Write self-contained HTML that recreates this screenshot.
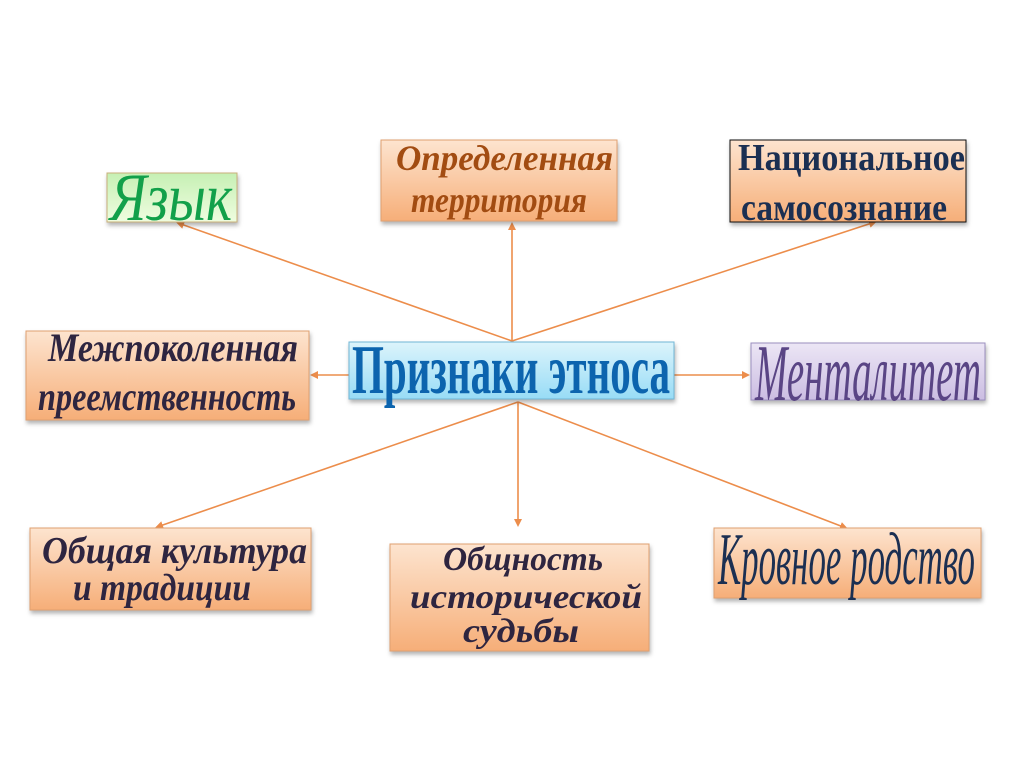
<!DOCTYPE html>
<html><head><meta charset="utf-8"><style>body{margin:0;background:#fff}svg{display:block}</style></head>
<body>
<svg width="1024" height="767" viewBox="0 0 1024 767" xmlns="http://www.w3.org/2000/svg">
<defs>
<linearGradient id="or" x1="0" y1="0" x2="0" y2="1"><stop offset="0" stop-color="#fde4cf"/><stop offset="1" stop-color="#f6ae78"/></linearGradient>
<linearGradient id="gr" x1="0" y1="0" x2="0" y2="1"><stop offset="0" stop-color="#c6f0b4"/><stop offset="1" stop-color="#effde0"/></linearGradient>
<linearGradient id="bl" x1="0" y1="0" x2="0" y2="1"><stop offset="0" stop-color="#dcf4fb"/><stop offset="1" stop-color="#98dcf6"/></linearGradient>
<linearGradient id="pu" x1="0" y1="0" x2="0" y2="1"><stop offset="0" stop-color="#ece6f5"/><stop offset="1" stop-color="#cbbde2"/></linearGradient>
<marker id="a" markerWidth="8" markerHeight="8" refX="6" refY="4" orient="auto" markerUnits="userSpaceOnUse"><path d="M0,0 L8,4 L0,8 Z" fill="#ec8d4b"/></marker>
<filter id="sh" x="-5%" y="-5%" width="115%" height="125%"><feDropShadow dx="1" dy="3" stdDeviation="2" flood-color="#000" flood-opacity="0.3"/></filter>
</defs>
<g stroke="#ec8d4b" stroke-width="1.6" fill="none" marker-end="url(#a)">
<line x1="512" y1="341" x2="178" y2="223"/>
<line x1="512" y1="341" x2="512" y2="224"/>
<line x1="512" y1="341" x2="875" y2="222"/>
<line x1="349" y1="375" x2="312" y2="375"/>
<line x1="674" y1="375" x2="748" y2="375"/>
<line x1="518" y1="402" x2="157" y2="527"/>
<line x1="518" y1="402" x2="518" y2="525"/>
<line x1="518" y1="402" x2="846" y2="528"/>
</g>
<g filter="url(#sh)">
<rect x="107" y="173" width="130" height="49" fill="url(#gr)" stroke="#c9b07a"/>
<rect x="381" y="140" width="236" height="81" fill="url(#or)" stroke="#e0a070"/>
<rect x="730" y="140" width="236" height="82" fill="url(#or)" stroke="#111"/>
<rect x="26" y="331" width="283" height="89" fill="url(#or)" stroke="#e0a070"/>
<rect x="349" y="342" width="325" height="57" fill="url(#bl)" stroke="#6fb6d6"/>
<rect x="751" y="343" width="234" height="57" fill="url(#pu)" stroke="#9b8fbf"/>
<rect x="30" y="528" width="281" height="82" fill="url(#or)" stroke="#e0a070"/>
<rect x="390" y="544" width="259" height="107" fill="url(#or)" stroke="#e0a070"/>
<rect x="714" y="528" width="267" height="70" fill="url(#or)" stroke="#e0a070"/>
</g>
<g font-family="Liberation Serif, serif" font-weight="bold" font-style="italic">
<text x="110" y="220" font-size="68" fill="#12a04a" font-weight="normal" textLength="122" lengthAdjust="spacingAndGlyphs">Язык</text>
<text x="396" y="170" font-size="36" fill="#a24c12" textLength="217" lengthAdjust="spacingAndGlyphs">Определенная</text>
<text x="411" y="212" font-size="36" fill="#a24c12" textLength="176" lengthAdjust="spacingAndGlyphs">территория</text>
<text x="738" y="170" font-size="38" fill="#1b2f52" font-style="normal" textLength="227" lengthAdjust="spacingAndGlyphs">Национальное</text>
<text x="741" y="220" font-size="38" fill="#1b2f52" font-style="normal" textLength="206" lengthAdjust="spacingAndGlyphs">самосознание</text>
<text x="48" y="361" font-size="40" fill="#2e2540" textLength="250" lengthAdjust="spacingAndGlyphs">Межпоколенная</text>
<text x="38" y="410" font-size="40" fill="#2e2540" textLength="258" lengthAdjust="spacingAndGlyphs">преемственность</text>
<text x="352" y="393" font-size="70" fill="#0c64ae" font-style="normal" textLength="318" lengthAdjust="spacingAndGlyphs">Признаки этноса</text>
<text x="755" y="400" font-size="80" fill="#5a4585" font-weight="normal" textLength="226" lengthAdjust="spacingAndGlyphs">Менталитет</text>
<text x="42" y="563" font-size="38" fill="#2e2540" textLength="265" lengthAdjust="spacingAndGlyphs">Общая культура</text>
<text x="73" y="600" font-size="38" fill="#2e2540" textLength="178" lengthAdjust="spacingAndGlyphs">и традиции</text>
<text x="443" y="570" font-size="34" fill="#2e2540" textLength="160" lengthAdjust="spacingAndGlyphs">Общность</text>
<text x="410" y="608" font-size="34" fill="#2e2540" textLength="232" lengthAdjust="spacingAndGlyphs">исторической</text>
<text x="463" y="642" font-size="34" fill="#2e2540" textLength="116" lengthAdjust="spacingAndGlyphs">судьбы</text>
<text x="718" y="584" font-size="74" fill="#1b2f52" font-weight="normal" textLength="257" lengthAdjust="spacingAndGlyphs">Кровное родство</text>
</g>
</svg>
</body></html>
